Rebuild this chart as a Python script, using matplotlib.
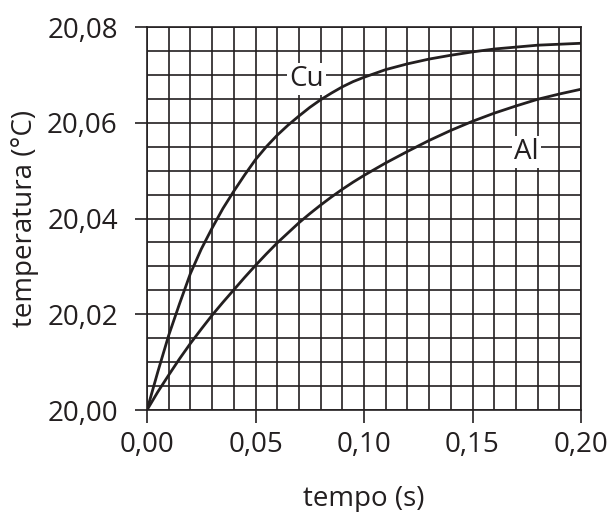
import numpy as np
import matplotlib.pyplot as plt

# tempo (s)
t = [0.000, 0.005, 0.010, 0.015, 0.020, 0.025, 0.030, 0.035, 0.040, 0.045,
     0.050, 0.055, 0.060, 0.065, 0.070, 0.075, 0.080, 0.085, 0.090, 0.095,
     0.100, 0.110, 0.120, 0.130, 0.140, 0.150, 0.160, 0.170, 0.180, 0.190,
     0.200]
# temperatura (°C)
cu = [20.0000, 20.0080, 20.0156, 20.0222, 20.0285, 20.0336, 20.0380, 20.0421,
      20.0457, 20.0491, 20.0523, 20.0550, 20.0574, 20.0595, 20.0614, 20.0632,
      20.0648, 20.0662, 20.0675, 20.0686, 20.0695, 20.0711, 20.0723, 20.0733,
      20.0741, 20.0748, 20.0754, 20.0758, 20.0762, 20.0764, 20.0766]
al = [20.0000, 20.0038, 20.0073, 20.0107, 20.0139, 20.0169, 20.0198, 20.0225,
      20.0251, 20.0277, 20.0302, 20.0326, 20.0349, 20.0370, 20.0391, 20.0410,
      20.0428, 20.0445, 20.0461, 20.0476, 20.0490, 20.0516, 20.0540, 20.0563,
      20.0584, 20.0603, 20.0620, 20.0635, 20.0649, 20.0660, 20.0670]

xticks = [0.00, 0.05, 0.10, 0.15, 0.20]
xticklabels = ["0,00", "0,05", "0,10", "0,15", "0,20"]
yticks = [20.00, 20.02, 20.04, 20.06, 20.08]
yticklabels = ["20,00", "20,02", "20,04", "20,06", "20,08"]

ink = "#231f20"
plt.rcParams["font.family"] = ["Open Sans", "DejaVu Sans"]

fig = plt.figure(figsize=(6.1, 5.12), dpi=100)
ax = fig.add_axes([147 / 610, 102 / 512, 434 / 610, 383 / 512])

ax.set_xlim(0, 0.20)
ax.set_ylim(20.00, 20.08)

# grid: every 0.01 s and 0.005 °C
ax.set_xticks(np.arange(0, 0.2001, 0.01), minor=True)
ax.set_yticks(np.arange(20.00, 20.0801, 0.005), minor=True)
ax.grid(which="both", color=ink, linewidth=1.2)
ax.set_axisbelow(True)
ax.tick_params(which="minor", length=0)

ax.set_xticks(xticks)
ax.set_xticklabels(xticklabels)
ax.set_yticks(yticks)
ax.set_yticklabels(yticklabels)
ax.tick_params(which="major", length=9, width=1.2, color=ink,
               labelsize=20, labelcolor=ink)
ax.tick_params(axis="x", pad=6)
ax.tick_params(axis="y", pad=12)

for s in ax.spines.values():
    s.set_color(ink)
    s.set_linewidth(1.2)

ax.plot(t, cu, color=ink, linewidth=2.0, zorder=3)
ax.plot(t, al, color=ink, linewidth=2.0, zorder=3)

box = dict(facecolor="white", edgecolor="none", pad=1.5)
ax.text(0.0735, 20.0692, "Cu", fontsize=20, color=ink, ha="center",
        va="center", bbox=box, zorder=4)
ax.text(0.175, 20.0538, "Al", fontsize=20, color=ink, ha="center",
        va="center", bbox=box, zorder=4)

ax.set_xlabel("tempo (s)", fontsize=20, color=ink, labelpad=19)
ax.set_ylabel("temperatura (°C)", fontsize=20, color=ink, labelpad=6)

fig.savefig("out.png", dpi=100)
